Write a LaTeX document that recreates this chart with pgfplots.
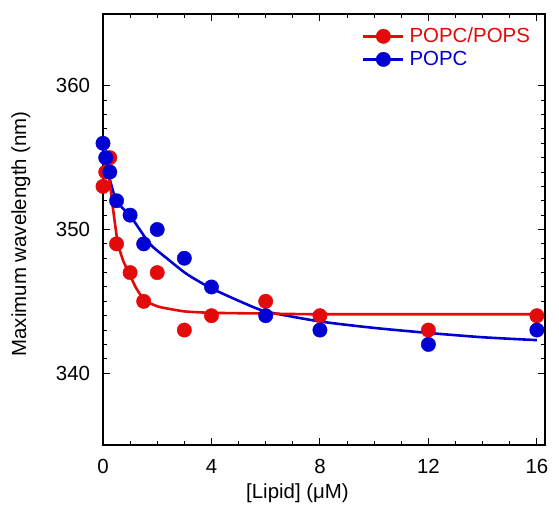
\documentclass[border=0pt]{standalone}
\usepackage{fontspec}
\setmainfont{Liberation Sans}
\usepackage{pgfplots}
\pgfplotsset{compat=1.18}
\definecolor{myred}{RGB}{226,10,10}
\definecolor{myblue}{RGB}{0,0,210}
\newcommand{\fs}{\fontsize{20.5}{24}\selectfont}
\begin{document}
\fs
\begin{tikzpicture}
\begin{axis}[
  width=442bp, height=431bp, scale only axis,
  xmin=0, xmax=16.3, ymin=335, ymax=365,
  xtick={0,4,8,12,16}, ytick={340,350,360},
  minor x tick num=3, minor y tick num=9,
  tick align=inside, major tick length=7bp, minor tick length=4bp,
  every tick/.style={black, line width=1pt},
  axis line style={black, line width=1.2pt},
  /pgf/number format/assume math mode=true,
  /pgf/number format/1000 sep={},
  tick label style={font=\fs},
  label style={font=\fs},
  yticklabel style={xshift=-6bp},
  xticklabel style={yshift=-7bp},
  xlabel={[Lipid] (μM)},
  ylabel={Maximum wavelength (nm)},
  xlabel style={at={(axis description cs:0.44,-0.112)}, anchor=center},
  ylabel style={at={(axis description cs:-0.186,0.49)}, anchor=center},
  legend style={draw=none, fill=none, at={(0.586,0.974)}, anchor=north west,
    font=\fs, inner sep=0bp, row sep=1.5bp,
    nodes={inner xsep=5bp}},
  legend cell align=left,
  legend image code/.code={
    \draw[#1, line width=2.4pt] (0bp,0bp) -- (40bp,0bp);
    \fill[#1] (20bp,0bp) circle (7.2bp);
  },
]
% fitted curves
\addplot[myblue, line width=2.6pt, smooth, tension=0.4, forget plot] coordinates {
 (0.1,354.6) (0.25,353.5) (0.5,352.0) (1.06,350.8) (1.73,349.0) (2.35,348.0)
 (3.09,346.9) (3.95,345.95) (5.05,345.0) (6.0,344.3) (8.0,343.6) (10,343.15)
 (12,342.8) (14,342.5) (16,342.3)};
\addplot[myred, line width=2.6pt, smooth, tension=0.3, forget plot] coordinates {
 (0.2,354.0) (0.3,352.5) (0.4,351.0) (0.55,349.0) (0.75,347.8) (1.0,346.8)
 (1.2,346.0) (1.4,345.4) (1.7,344.9) (2.1,344.6) (3.0,344.3) (4.0,344.2)
 (6.0,344.15) (8.0,344.1) (16,344.1)};
% data points
\addplot[only marks, mark=*, mark size=7.2bp, color=myred, forget plot] coordinates {
 (0,353) (0.1,354) (0.25,355) (0.5,349) (1,347) (1.5,345) (2,347) (3,343)
 (4,344) (6,345) (8,344) (12,343) (16,344)};
\addplot[only marks, mark=*, mark size=7.2bp, color=myblue, forget plot] coordinates {
 (0,356) (0.1,355) (0.25,354) (0.5,352) (1,351) (1.5,349) (2,350) (3,348)
 (4,346) (6,344) (8,343) (12,342) (16,343)};
\addlegendimage{myred}
\addlegendentry{\textcolor{myred}{POPC/POPS}}
\addlegendimage{myblue}
\addlegendentry{\textcolor{myblue}{POPC}}
\end{axis}
\useasboundingbox (current axis.south west) ++(-103bp,-62bp) rectangle ++(559bp,507bp);
\end{tikzpicture}
\end{document}
